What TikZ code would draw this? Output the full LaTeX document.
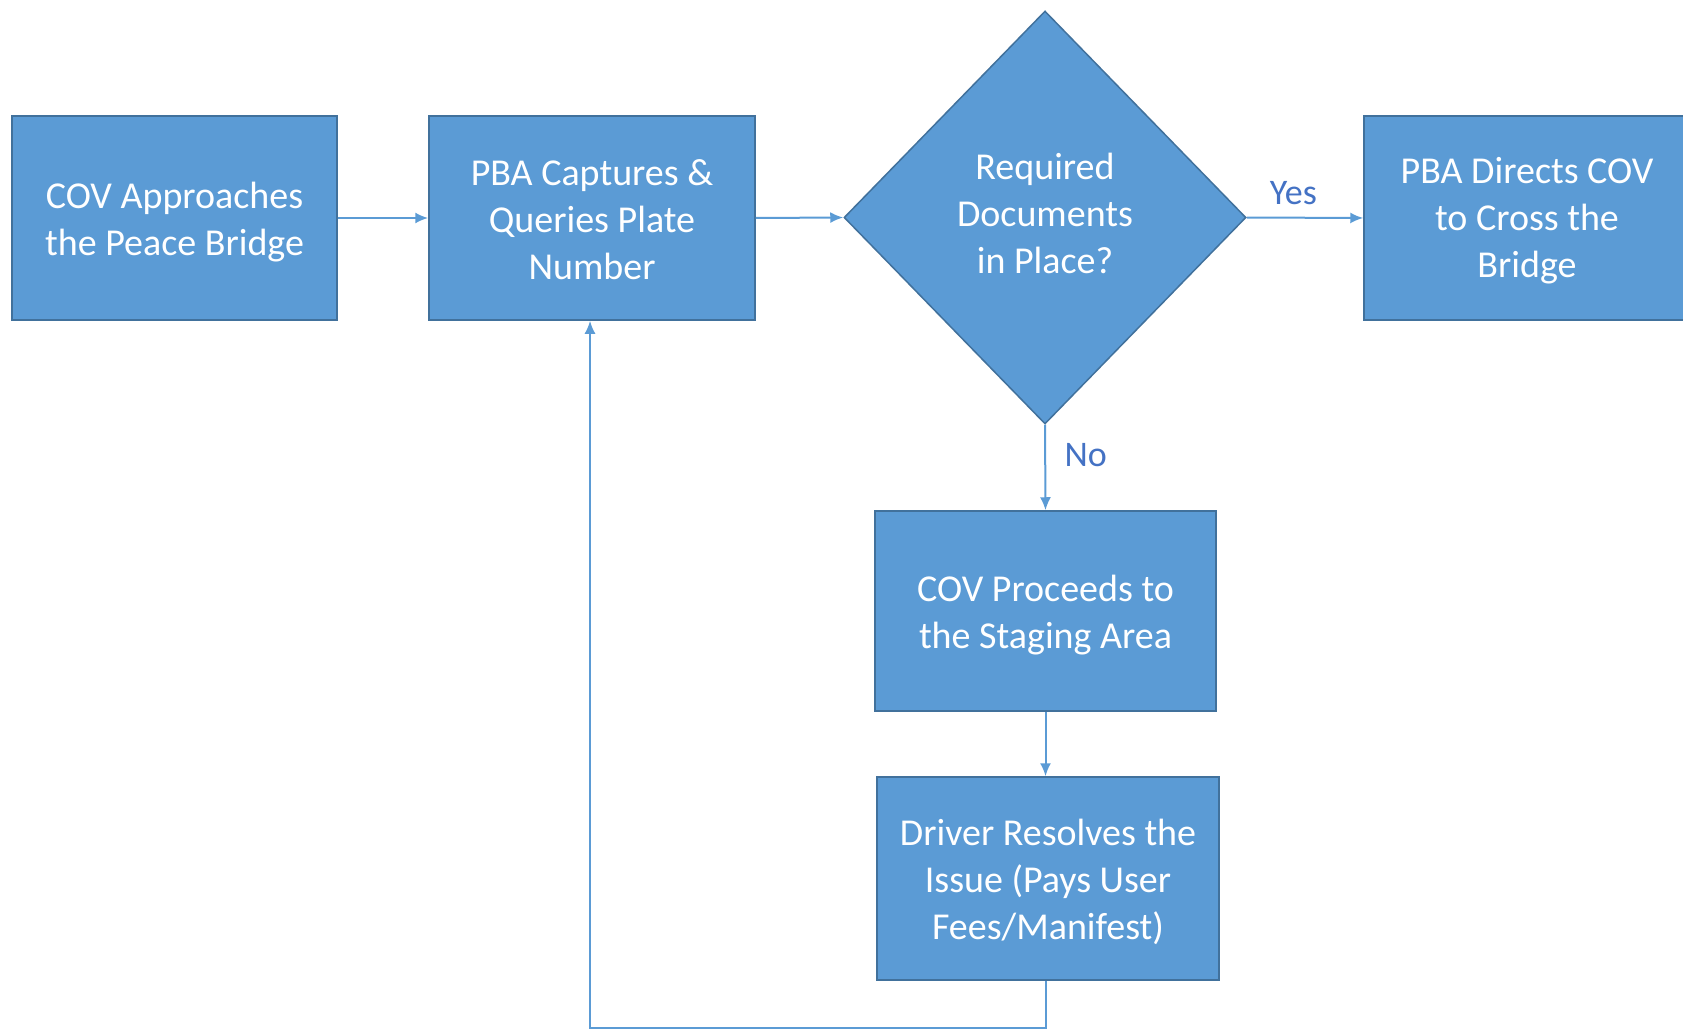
\documentclass[tikz,border=0pt]{standalone}
\usepackage{fontspec}
\setmainfont{Carlito}
\usetikzlibrary{shapes.geometric,arrows.meta}
\definecolor{boxfill}{HTML}{5B9BD5}
\definecolor{boxline}{HTML}{41719C}
\definecolor{linkcol}{HTML}{5B9BD5}
\definecolor{labcol}{HTML}{4472C4}
\begin{document}
\begin{tikzpicture}[x=1pt,y=-1pt,
  boxtext/.style={text=white,font=\fontsize{38}{47}\selectfont,align=center,inner sep=0pt},
  procbox/.style={draw=boxline,line width=1.5pt,fill=boxfill,inner sep=0pt},
  decbox/.style={diamond,draw=boxline,line width=1.5pt,fill=boxfill,inner sep=0pt,
    minimum width=402pt,minimum height=413pt},
  link/.style={draw=linkcol,line width=2pt,-{Latex[length=13pt,width=11pt]}},
  lab/.style={text=labcol,font=\fontsize{36}{40}\selectfont}]
\useasboundingbox (0,0) rectangle (1683,1030);
\node[procbox,minimum width=325pt,minimum height=204pt,
  label={[boxtext,yshift=-4pt]center:COV Approaches\\the Peace Bridge}] (b1) at (174.5,218) {};
\node[procbox,minimum width=326pt,minimum height=204pt,
  label={[boxtext,yshift=-2pt]center:PBA Captures \&\\Queries Plate\\Number}] (b2) at (592,218) {};
\node[decbox,
  label={[boxtext,yshift=4pt]center:Required\\Documents\\in Place?}] (d) at (1045,217.5) {};
\node[procbox,minimum width=326pt,minimum height=204pt,
  label={[boxtext,yshift=-3pt]center:PBA Directs COV\\to Cross the\\Bridge}] (b5) at (1527,218) {};
\node[procbox,minimum width=341pt,minimum height=200pt,
  label={[boxtext,yshift=-4pt]center:COV Proceeds to\\the Staging Area}] (b3) at (1045.5,611) {};
\node[procbox,minimum width=342pt,minimum height=203pt,
  label={[boxtext,yshift=-3pt]center:Driver Resolves the\\Issue (Pays User\\Fees/Manifest)}] (b4) at (1048,878.5) {};
\coordinate (c1) at (1046,1028);
\coordinate (c2) at (590,1028);
\draw[link] (b1.east) -- (b2.west);
\draw[link] (b2.east) -- (d.west);
\draw[link] (d.east) -- node[lab,above=9pt,pos=0.4] (yes) {Yes} (b5.west);
\draw[link] (d.south) -- node[lab,right=15pt,pos=0.36] (no) {No} (b3.north);
\draw[link] (b3.south) -- (b3.south |- b4.north);
\draw[link] (b4.south -| c1) -- (c1) -- (c2) -- (c2 |- b2.south);
\end{tikzpicture}
\end{document}
